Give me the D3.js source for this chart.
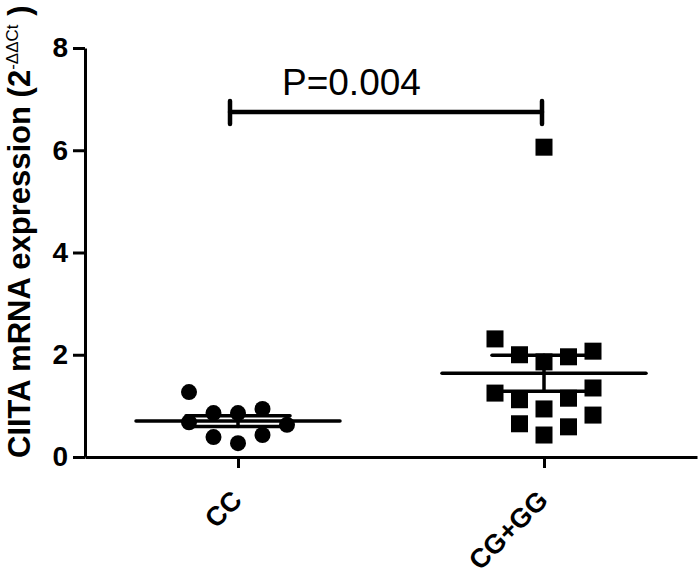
<!DOCTYPE html>
<html>
<head>
<meta charset="utf-8">
<script src="https://cdn.jsdelivr.net/npm/d3@7"></script>
<style>
  body { margin: 0; background: #fff; }
  text { font-family: "Liberation Sans", Arial, sans-serif; }
</style>
</head>
<body>
<div id="wrapper"></div>
<script>
// data
const groups = ["CC", "CG+GG"];
const ccValues = [0.86, 0.27, 0.86, 0.94, 0.43, 0.39, 1.27, 0.68, 0.63];
const cgggValues = [6.06, 1.86, 0.94, 0.43, 2.00, 1.12, 0.65, 1.96, 1.15, 0.59, 2.31, 2.07, 1.25, 1.35, 0.82];
const yTicks = [0, 2, 4, 6, 8];
const pLabel = "P=0.004";
const bracketValue = 6.75;

function drawChart() {
  // step 1: dimensions
  let dimensions = {
    width: 700,
    height: 576,
    margin: { top: 48, right: 3, bottom: 119, left: 85 },
  };
  dimensions.boundedWidth = dimensions.width - dimensions.margin.left - dimensions.margin.right;
  dimensions.boundedHeight = dimensions.height - dimensions.margin.top - dimensions.margin.bottom;

  // step 2: canvas
  const wrapper = d3.select('#wrapper')
    .append('svg')
    .attr('width', dimensions.width)
    .attr('height', dimensions.height);
  const bounds = wrapper.append('g')
    .attr('transform', `translate(${dimensions.margin.left},${dimensions.margin.top})`);

  // step 3: scales
  const xScale = d3.scalePoint()
    .domain(groups)
    .range([0, dimensions.boundedWidth])
    .padding(0.5);
  const yScale = d3.scaleLinear()
    .domain([0, 8])
    .range([dimensions.boundedHeight, 0]);

  // simple column swarm like the prism scatter layout
  const slotWidth = 24.5;
  const minGap = 23.5;
  const swarm = (values, cx) => {
    const placed = [];
    const order = [0, -1, 1, -2, 2, -3, 3];
    return values.map(v => {
      const py = yScale(v);
      const s = order.find(k => !placed.some(p => p.slot === k && Math.abs(p.py - py) < minGap));
      placed.push({ slot: s, py });
      return { value: v, x: cx + s * slotWidth, y: py };
    });
  };

  const series = [
    { name: "CC", values: ccValues, shape: 'circle' },
    { name: "CG+GG", values: cgggValues, shape: 'square' },
  ];

  // step 4: points
  series.forEach(s => {
    const cx = xScale(s.name);
    const pts = swarm(s.values, cx);
    const g = bounds.append('g');
    if (s.shape === 'circle') {
      g.selectAll('circle').data(pts).enter().append('circle')
        .attr('cx', d => d.x)
        .attr('cy', d => d.y)
        .attr('r', 8)
        .attr('fill', '#000');
    } else {
      g.selectAll('rect').data(pts).enter().append('rect')
        .attr('x', d => d.x - 8.5)
        .attr('y', d => d.y - 8.5)
        .attr('width', 17)
        .attr('height', 17)
        .attr('fill', '#000');
    }

    // mean and SEM
    const mean = d3.mean(s.values);
    const sem = d3.deviation(s.values) / Math.sqrt(s.values.length);
    const lines = bounds.append('g')
      .attr('stroke', '#000')
      .attr('stroke-width', 3.5)
      .attr('stroke-linecap', 'round');
    lines.append('line')
      .attr('x1', cx - 102).attr('x2', cx + 102)
      .attr('y1', yScale(mean)).attr('y2', yScale(mean));
    lines.append('line')
      .attr('x1', cx).attr('x2', cx)
      .attr('y1', yScale(mean - sem)).attr('y2', yScale(mean + sem));
    [mean - sem, mean + sem].forEach(v => {
      lines.append('line')
        .attr('x1', cx - 52).attr('x2', cx + 52)
        .attr('y1', yScale(v)).attr('y2', yScale(v));
    });
  });

  // step 5: significance bracket
  const bx1 = xScale(groups[0]) - 8;
  const bx2 = xScale(groups[1]) - 2;
  const by = yScale(bracketValue);
  const bracket = bounds.append('g')
    .attr('stroke', '#000')
    .attr('stroke-width', 4.5)
    .attr('stroke-linecap', 'round');
  bracket.append('line').attr('x1', bx1).attr('x2', bx2).attr('y1', by).attr('y2', by);
  bracket.append('line').attr('x1', bx1).attr('x2', bx1).attr('y1', by - 11).attr('y2', by + 12);
  bracket.append('line').attr('x1', bx2).attr('x2', bx2).attr('y1', by - 11).attr('y2', by + 12);
  bounds.append('text')
    .attr('x', bx1 + 52)
    .attr('y', by - 17)
    .style('font-size', '37px')
    .attr('fill', '#000')
    .text(pLabel);

  // step 6: axes
  const yAxis = bounds.append('g')
    .call(d3.axisLeft(yScale).tickValues(yTicks).tickSize(12).tickSizeOuter(0).tickPadding(5));
  const xAxis = bounds.append('g')
    .attr('transform', `translate(0,${dimensions.boundedHeight})`)
    .call(d3.axisBottom(xScale).tickSize(11).tickSizeOuter(0));
  [xAxis, yAxis].forEach(ax => {
    ax.select('.domain').attr('stroke-width', 3).attr('stroke', '#000');
    ax.selectAll('.tick line').attr('stroke-width', 3).attr('stroke', '#000');
  });
  yAxis.selectAll('.tick text')
    .style('font-size', '28px')
    .style('font-weight', 'bold')
    .attr('fill', '#000');
  xAxis.selectAll('.tick text')
    .attr('y', 0)
    .attr('dy', 0)
    .attr('text-anchor', 'end')
    .attr('transform', 'translate(5,45) rotate(-45)')
    .style('font-size', '27px')
    .style('font-weight', 'bold')
    .attr('fill', '#000');

  // y axis title with superscript
  const title = wrapper.append('text')
    .attr('transform', `translate(30,${dimensions.margin.top + dimensions.boundedHeight + 1}) rotate(-90)`)
    .style('font-size', '31px')
    .style('font-weight', 'bold')
    .attr('fill', '#000');
  title.append('tspan').text('CIITA mRNA expression (2');
  title.append('tspan').attr('dy', -12).style('font-size', '17px').style('font-weight', 'normal').text('-ΔΔCt');
  title.append('tspan').attr('dy', 12).text(' )');
}
drawChart();
</script>
</body>
</html>
